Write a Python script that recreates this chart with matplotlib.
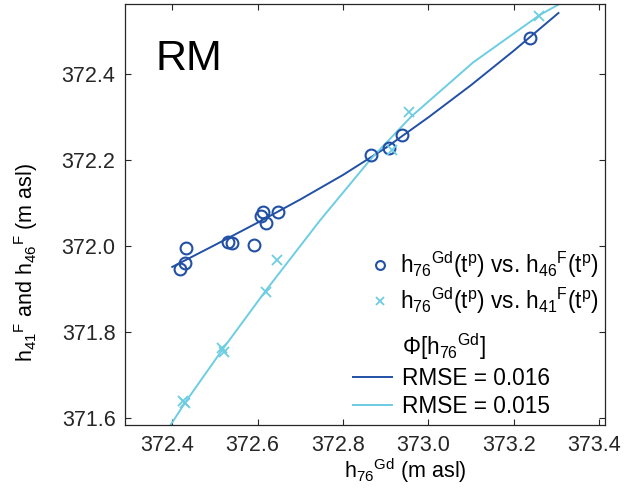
#import python libraries
import matplotlib
matplotlib.use('Agg')
import matplotlib.pyplot as plt
from matplotlib.lines import Line2D
from matplotlib.transforms import ScaledTranslation

plt.rcParams['font.family'] = ['Liberation Sans', 'DejaVu Sans']
plt.rcParams['mathtext.default'] = 'regular'

#measured points h76Gd vs h46F (circles)
h76_c = [372.418, 372.430, 372.432, 372.530, 372.541, 372.591, 372.608, 372.613,
         372.620, 372.648, 372.866, 372.909, 372.938, 373.238]
h46 = [371.947, 371.961, 371.996, 372.009, 372.008, 372.004, 372.070, 372.079,
       372.054, 372.079, 372.213, 372.229, 372.258, 372.485]

#measured points h76Gd vs h41F (crosses)
h76_x = [372.426, 372.431, 372.517, 372.521, 372.620, 372.646, 372.915, 372.955, 373.260]
h41 = [371.641, 371.635, 371.764, 371.755, 371.894, 371.967, 372.225, 372.312, 372.535]

#fitted curves Phi[h76Gd]
fit46_x = [372.40, 372.50, 372.60, 372.70, 372.80, 372.90, 373.00, 373.10, 373.20, 373.305]
fit46_y = [371.952, 372.003, 372.055, 372.109, 372.166, 372.229, 372.300, 372.375, 372.455, 372.543]
fit41_x = [372.396, 372.43, 372.52, 372.62, 372.746, 372.866, 372.96, 373.105, 373.262, 373.304]
fit41_y = [371.584, 371.636, 371.763, 371.898, 372.060, 372.204, 372.302, 372.428, 372.539, 372.562]

xticks = [372.4, 372.6, 372.8, 373.0, 373.2, 373.4]
yticks = [371.6, 371.8, 372.0, 372.2, 372.4]

dark = '#2150a5'
light = '#6dcde2'
fs = 15.5
fs_leg = 16.3

fig = plt.figure(figsize=(6.25, 4.91), dpi=100)
ax = fig.add_axes([0.2005, 0.1344, 0.7675, 0.8575])

line46, = ax.plot(fit46_x, fit46_y, '-', color=dark, lw=1.4)
line41, = ax.plot(fit41_x, fit41_y, '-', color=light, lw=1.4)
pts46, = ax.plot(h76_c, h46, 'o', color=dark, mfc='none', ms=8.5, mew=1.5, linestyle='none')
pts41, = ax.plot(h76_x, h41, 'x', color=light, ms=7, mew=1.3, linestyle='none')

ax.set_xlim(372.29, 373.414)
ax.set_ylim(371.584, 372.564)
ax.set_xticks(xticks)
ax.set_xticklabels([f'{v:.1f}' for v in xticks])
ax.set_yticks(yticks)
ax.set_yticklabels([f'{v:.1f}' for v in yticks])
ax.tick_params(direction='in', length=4, width=0.8, top=True, right=True,
               labelsize=fs, colors='#262626', pad=7)
for s in ax.spines.values():
    s.set_color('#262626')
    s.set_linewidth(0.9)

#x tick labels sit a little left of their ticks in the original
shift = ScaledTranslation(-5 / 100, 0, fig.dpi_scale_trans)
for lab in ax.get_xticklabels():
    lab.set_transform(lab.get_transform() + shift)

ax.set_xlabel('h$_{76}$$^{Gd}$ (m asl)', fontsize=fs)
ax.set_ylabel('h$_{41}$$^{F}$ and h$_{46}$$^{F}$ (m asl)', fontsize=fs)
ax.xaxis.set_label_coords(0.583, -0.075)
ax.yaxis.set_label_coords(-0.178, 0.385)

ax.text(0.062, 0.843, 'RM', transform=ax.transAxes, fontsize=31)

#legend for the points
leg1 = ax.legend([pts46, pts41],
                 ['h$_{76}$$^{Gd}$(t$^{p}$) vs. h$_{46}$$^{F}$(t$^{p}$)',
                  'h$_{76}$$^{Gd}$(t$^{p}$) vs. h$_{41}$$^{F}$(t$^{p}$)'],
                 loc='upper left', bbox_to_anchor=(0.483, 0.445), frameon=False,
                 fontsize=fs_leg, borderpad=0, handlelength=1.0, handletextpad=0.4,
                 labelspacing=0.24, markerscale=0.75)
ax.add_artist(leg1)

#legend for the fits
blank = Line2D([], [], linestyle='none', marker='none')
ax.legend([blank, line46, line41],
          ['$\\Phi$[h$_{76}$$^{Gd}$]', 'RMSE = 0.016', 'RMSE = 0.015'],
          loc='upper left', bbox_to_anchor=(0.452, 0.250), frameon=False,
          fontsize=fs_leg, borderpad=0, handlelength=1.7, handletextpad=0.45,
          labelspacing=0.22)

fig.savefig('out.png', dpi=100)
